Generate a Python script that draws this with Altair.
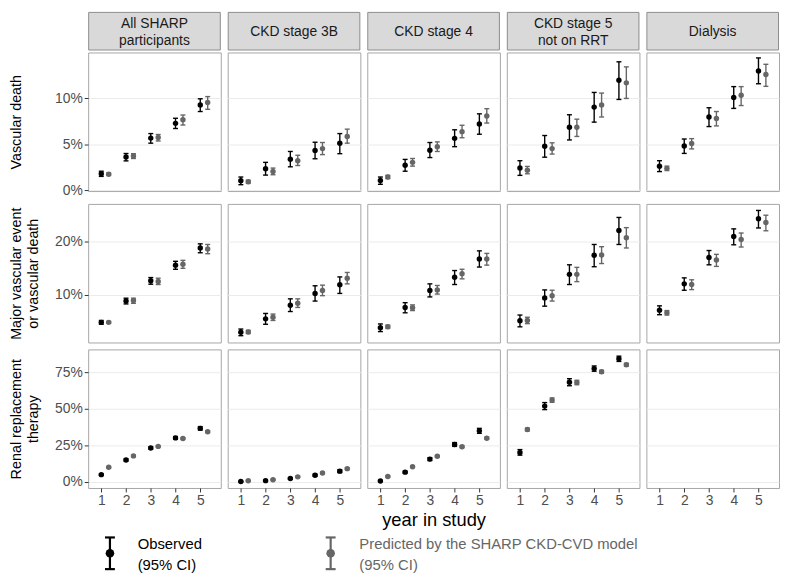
import altair as alt
import pandas as pd

FONT = "Liberation Sans"

groups = ["All SHARP participants", "CKD stage 3B", "CKD stage 4",
          "CKD stage 5 not on RRT", "Dialysis"]
strip_labels = [["All SHARP", "participants"], ["CKD stage 3B"], ["CKD stage 4"],
                ["CKD stage 5", "not on RRT"], ["Dialysis"]]
outcomes = ["Vascular death", "Major vascular event or vascular death",
            "Renal replacement therapy"]
row_titles = [["Vascular death", " "], ["Major vascular event", "or vascular death"],
              ["Renal replacement", "therapy"]]
years = [1, 2, 3, 4, 5]
series = ["Observed", "Predicted"]
legend_labels = [["Observed", "(95% CI)"], ["Predicted by the SHARP CKD-CVD model", "(95% CI)"]]
y_ticks = [[0, 5, 10], [10, 20], [0, 25, 50, 75]]
y_domains = [[-0.07, 14.95], [1.0, 27.1], [-4.1, 90.5]]
x_domain = [0.47, 5.83]

# ---- Vascular death (%), one list per group ----
vd_obs_est = [[1.80, 3.63, 5.67, 7.27, 9.27], [1.04, 2.35, 3.39, 4.33, 5.12],
              [1.07, 2.73, 4.36, 5.64, 7.20], [2.42, 4.78, 6.85, 9.03, 11.94],
              [2.63, 4.81, 7.96, 10.07, 12.94]]
vd_obs_lo = [[1.52, 3.20, 5.12, 6.71, 8.55], [0.62, 1.66, 2.56, 3.43, 3.98],
             [0.66, 2.08, 3.56, 4.74, 6.09], [1.63, 3.60, 5.47, 7.40, 9.86],
             [2.04, 4.01, 6.92, 8.89, 11.56]]
vd_obs_hi = [[2.08, 4.00, 6.16, 7.82, 9.93], [1.45, 3.04, 4.22, 5.22, 6.16],
             [1.45, 3.36, 5.19, 6.57, 8.30], [3.22, 5.95, 8.20, 10.62, 13.94],
             [3.22, 5.57, 8.96, 11.25, 14.36]]
vd_pred_est = [[1.76, 3.74, 5.74, 7.65, 9.52], [0.93, 2.04, 3.22, 4.53, 5.85],
               [1.45, 3.04, 4.74, 6.37, 8.06], [2.18, 4.53, 6.85, 9.27, 11.66],
               [2.39, 5.09, 7.79, 10.31, 12.56]]
vd_pred_lo = [[1.62, 3.46, 5.36, 7.09, 8.79], [0.76, 1.70, 2.70, 3.88, 5.12],
              [1.28, 2.63, 4.22, 5.71, 7.30], [1.80, 3.94, 5.85, 7.96, 9.97],
              [2.15, 4.50, 6.99, 9.20, 11.28]]
vd_pred_hi = [[1.90, 3.98, 6.06, 8.17, 10.17], [1.10, 2.42, 3.81, 5.19, 6.64],
              [1.63, 3.46, 5.26, 7.06, 8.86], [2.60, 5.16, 7.72, 10.55, 13.39],
              [2.63, 5.61, 8.55, 11.25, 13.67]]

# ---- Major vascular event or vascular death (%) ----
mv_obs_est = [[4.79, 8.80, 12.63, 15.57, 18.80], [2.93, 5.45, 8.02, 10.24, 11.86],
              [3.77, 7.60, 10.78, 13.29, 16.71], [5.09, 9.40, 13.83, 17.43, 22.10],
              [7.07, 12.04, 17.01, 20.96, 24.31]]
mv_obs_lo = [[4.43, 8.26, 11.98, 14.79, 17.90], [2.28, 4.43, 6.83, 8.80, 10.24],
             [3.05, 6.59, 9.58, 11.92, 15.21], [3.95, 7.84, 11.92, 15.27, 19.46],
             [6.23, 10.84, 15.63, 19.40, 22.57]]
mv_obs_hi = [[5.15, 9.34, 13.23, 16.29, 19.58], [3.53, 6.47, 9.22, 11.68, 13.35],
             [4.49, 8.50, 12.04, 14.55, 18.26], [6.17, 10.90, 15.63, 19.46, 24.55],
             [7.90, 13.17, 18.32, 22.40, 25.87]]
mv_pred_est = [[4.79, 8.92, 12.51, 15.75, 18.62], [2.99, 5.75, 8.38, 10.78, 13.11],
               [3.95, 7.54, 10.90, 13.95, 16.71], [5.15, 9.82, 13.83, 17.49, 20.72],
               [6.59, 11.92, 16.53, 20.42, 23.59]]
mv_pred_lo = [[4.61, 8.38, 11.92, 14.97, 17.72], [2.69, 5.15, 7.60, 9.82, 12.04],
              [3.65, 7.01, 10.12, 12.99, 15.57], [4.55, 8.80, 12.46, 15.87, 18.80],
              [6.17, 10.96, 15.33, 18.98, 22.04]]
mv_pred_hi = [[4.97, 9.34, 13.11, 16.47, 19.46], [3.29, 6.35, 9.22, 11.80, 14.19],
              [4.25, 8.08, 11.74, 14.79, 17.78], [5.75, 10.84, 15.15, 19.04, 22.63],
              [7.01, 12.81, 17.60, 21.62, 24.97]]

# ---- Renal replacement therapy (%) (no data for Dialysis) ----
rr_obs_est = [[5.0, 15.0, 23.2, 30.1, 36.6], [0.3, 0.9, 2.4, 4.6, 7.4],
              [0.7, 6.7, 15.6, 25.6, 34.9], [20.2, 51.8, 68.1, 77.4, 84.1], []]
rr_obs_lo = [[4.5, 14.3, 22.4, 29.2, 35.4], [0.1, 0.6, 1.9, 3.9, 6.4],
             [0.4, 6.0, 14.6, 24.3, 33.2], [18.3, 49.4, 65.7, 75.6, 82.3], []]
rr_obs_hi = [[5.5, 15.7, 24.0, 31.0, 37.8], [0.5, 1.2, 2.9, 5.3, 8.4],
             [1.0, 7.4, 16.6, 26.9, 36.6], [22.1, 54.2, 70.5, 79.2, 85.9], []]
rr_pred_est = [[10.0, 17.8, 24.3, 29.7, 34.3], [0.8, 1.5, 3.5, 6.1, 9.1],
               [3.7, 10.4, 17.6, 24.1, 29.9], [35.8, 55.9, 67.9, 75.2, 80.0], []]
rr_pred_lo = [[9.6, 17.4, 23.9, 29.2, 33.7], [0.6, 1.2, 3.1, 5.6, 8.5],
              [3.4, 10.0, 17.1, 23.5, 29.2], [34.8, 54.4, 66.4, 74.2, 79.0], []]
rr_pred_hi = [[10.4, 18.2, 24.7, 30.2, 34.9], [1.0, 1.8, 3.9, 6.6, 9.7],
              [4.0, 10.8, 18.1, 24.7, 30.6], [36.8, 57.4, 69.4, 76.2, 81.0], []]

tables = [
    [(vd_obs_est, vd_obs_lo, vd_obs_hi), (vd_pred_est, vd_pred_lo, vd_pred_hi)],
    [(mv_obs_est, mv_obs_lo, mv_obs_hi), (mv_pred_est, mv_pred_lo, mv_pred_hi)],
    [(rr_obs_est, rr_obs_lo, rr_obs_hi), (rr_pred_est, rr_pred_lo, rr_pred_hi)],
]

rows = []
for r, outcome in enumerate(outcomes):
    for s, ser in enumerate(series):
        est, lo, hi = tables[r][s]
        for g, grp in enumerate(groups):
            for i, v in enumerate(est[g]):
                rows.append({"outcome": outcome, "group": grp, "series": ser,
                             "year": years[i], "est": v, "lo": lo[g][i], "hi": hi[g][i]})
df = pd.DataFrame(rows, columns=["outcome", "group", "series", "year", "est", "lo", "hi"])

W = 134
H = 140
SH = 39
GAP = 5
LH = 17
COLORS = ["#000000", "#666666"]

color_enc = alt.Color("series:N", scale=alt.Scale(domain=series, range=COLORS), legend=None)


def panel(r, c):
    d = df[(df.outcome == outcomes[r]) & (df.group == groups[c])]
    if r == 2:
        xaxis = alt.Axis(values=years, grid=False, domain=False, labelFontSize=14,
                         labelColor="#4d4d4d", tickColor="#333333", tickSize=4,
                         labelPadding=2, labelFont=FONT,
                         title="year in study" if c == 2 else None,
                         titleFontSize=18.5, titleFontWeight="normal", titleColor="#000000",
                         titleFont=FONT, titlePadding=3)
    else:
        xaxis = None
    if c == 0:
        yaxis = alt.Axis(values=y_ticks[r], labelExpr="datum.value + '%'", title=row_titles[r],
                         titleFontSize=14.5, titleFontWeight="normal", titleColor="#000000",
                         titleFont=FONT, titleLineHeight=17, titlePadding=14,
                         labelFontSize=14, labelColor="#4d4d4d", labelFont=FONT,
                         tickColor="#333333", tickSize=4, labelPadding=2, domain=False,
                         grid=True, gridColor="#ebebeb", gridWidth=1)
    else:
        yaxis = alt.Axis(values=y_ticks[r], labels=False, ticks=False, domain=False, title=None,
                         grid=True, gridColor="#ebebeb", gridWidth=1)
    xs = alt.Scale(domain=x_domain, nice=False, zero=False)
    ys = alt.Scale(domain=y_domains[r], nice=False, zero=False)
    base = alt.Chart(d).transform_calculate(
        xpos="datum.year + (datum.series == 'Predicted' ? 0.3 : 0)"
    ).encode(x=alt.X("xpos:Q", scale=xs, axis=xaxis), color=color_enc)
    rule = base.mark_rule(strokeWidth=1.4).encode(
        y=alt.Y("lo:Q", scale=ys, axis=yaxis), y2="hi:Q")
    cap_lo = base.mark_tick(orient="horizontal", size=5, thickness=1.4, opacity=1).encode(
        y=alt.Y("lo:Q", scale=ys, axis=yaxis))
    cap_hi = base.mark_tick(orient="horizontal", size=5, thickness=1.4, opacity=1).encode(
        y=alt.Y("hi:Q", scale=ys, axis=yaxis))
    pts = base.mark_circle(size=30, opacity=1).encode(
        y=alt.Y("est:Q", scale=ys, axis=yaxis))
    return alt.layer(rule, cap_lo, cap_hi, pts).properties(
        width=W, height=H, view=alt.ViewBackground(stroke="#a6a6a6", strokeWidth=1))


def strip(c):
    lines = strip_labels[c]
    n = len(lines)
    sd = pd.DataFrame({"label": [" ".join(lines)]})
    rect = alt.Chart(sd).mark_rect(fill="#d9d9d9", stroke="#8c8c8c", strokeWidth=1).encode(
        x=alt.value(0.5), x2=alt.value(W - 0.5), y=alt.value(0.5), y2=alt.value(SH - 0.5))
    layers = [rect]
    for i, line in enumerate(lines):
        t = alt.Chart(pd.DataFrame({"label": [line]})).mark_text(
            fontSize=14, color="#1a1a1a", font=FONT, baseline="middle", align="center"
        ).encode(text="label:N", x=alt.value(W / 2),
                 y=alt.value(SH / 2 + 1 + (i - (n - 1) / 2) * LH))
        layers.append(t)
    return alt.layer(*layers).properties(width=W, height=SH)


def legend_item(k, kx, tx):
    col = COLORS[k]
    ld = pd.DataFrame({"label": [" ".join(legend_labels[k])]})
    bar = alt.Chart(ld).mark_rule(color=col, strokeWidth=2.2).encode(
        x=alt.value(kx), y=alt.value(2), y2=alt.value(34))
    cap1 = alt.Chart(ld).mark_rule(color=col, strokeWidth=2.2).encode(
        x=alt.value(kx - 5), x2=alt.value(kx + 5), y=alt.value(2))
    cap2 = alt.Chart(ld).mark_rule(color=col, strokeWidth=2.2).encode(
        x=alt.value(kx - 5), x2=alt.value(kx + 5), y=alt.value(34))
    dot = alt.Chart(ld).mark_circle(color=col, size=75, opacity=1).encode(
        x=alt.value(kx), y=alt.value(18))
    out = [bar, cap1, cap2, dot]
    for i, line in enumerate(legend_labels[k]):
        out.append(alt.Chart(pd.DataFrame({"label": [line]})).mark_text(
            fontSize=15, color=col, font=FONT, align="left", baseline="middle"
        ).encode(text="label:N", x=alt.value(tx), y=alt.value(9 + 21 * i)))
    return out


legend = alt.layer(*(legend_item(0, 22, 50) + legend_item(1, 245, 274))).properties(
    width=5 * W + 4 * GAP, height=36, view=alt.ViewBackground(stroke="transparent"))

strip_row = alt.hconcat(*[strip(c) for c in range(5)], spacing=GAP)
panel_rows = [
    alt.hconcat(*[panel(r, c) for c in range(5)], spacing=GAP)
    .resolve_scale(x="independent", y="independent")
    for r in range(3)
]

grid = alt.vconcat(
    alt.vconcat(strip_row, panel_rows[0], spacing=0).resolve_scale(x="independent", y="independent"),
    panel_rows[1], panel_rows[2], spacing=GAP
).resolve_scale(x="independent", y="independent")

chart = alt.vconcat(grid, legend, spacing=5).resolve_scale(
    x="independent", y="independent").properties(padding=0).configure(
    font=FONT).configure_view(stroke="transparent")

chart.save("out.html", embed_options={"renderer": "svg", "actions": False})
